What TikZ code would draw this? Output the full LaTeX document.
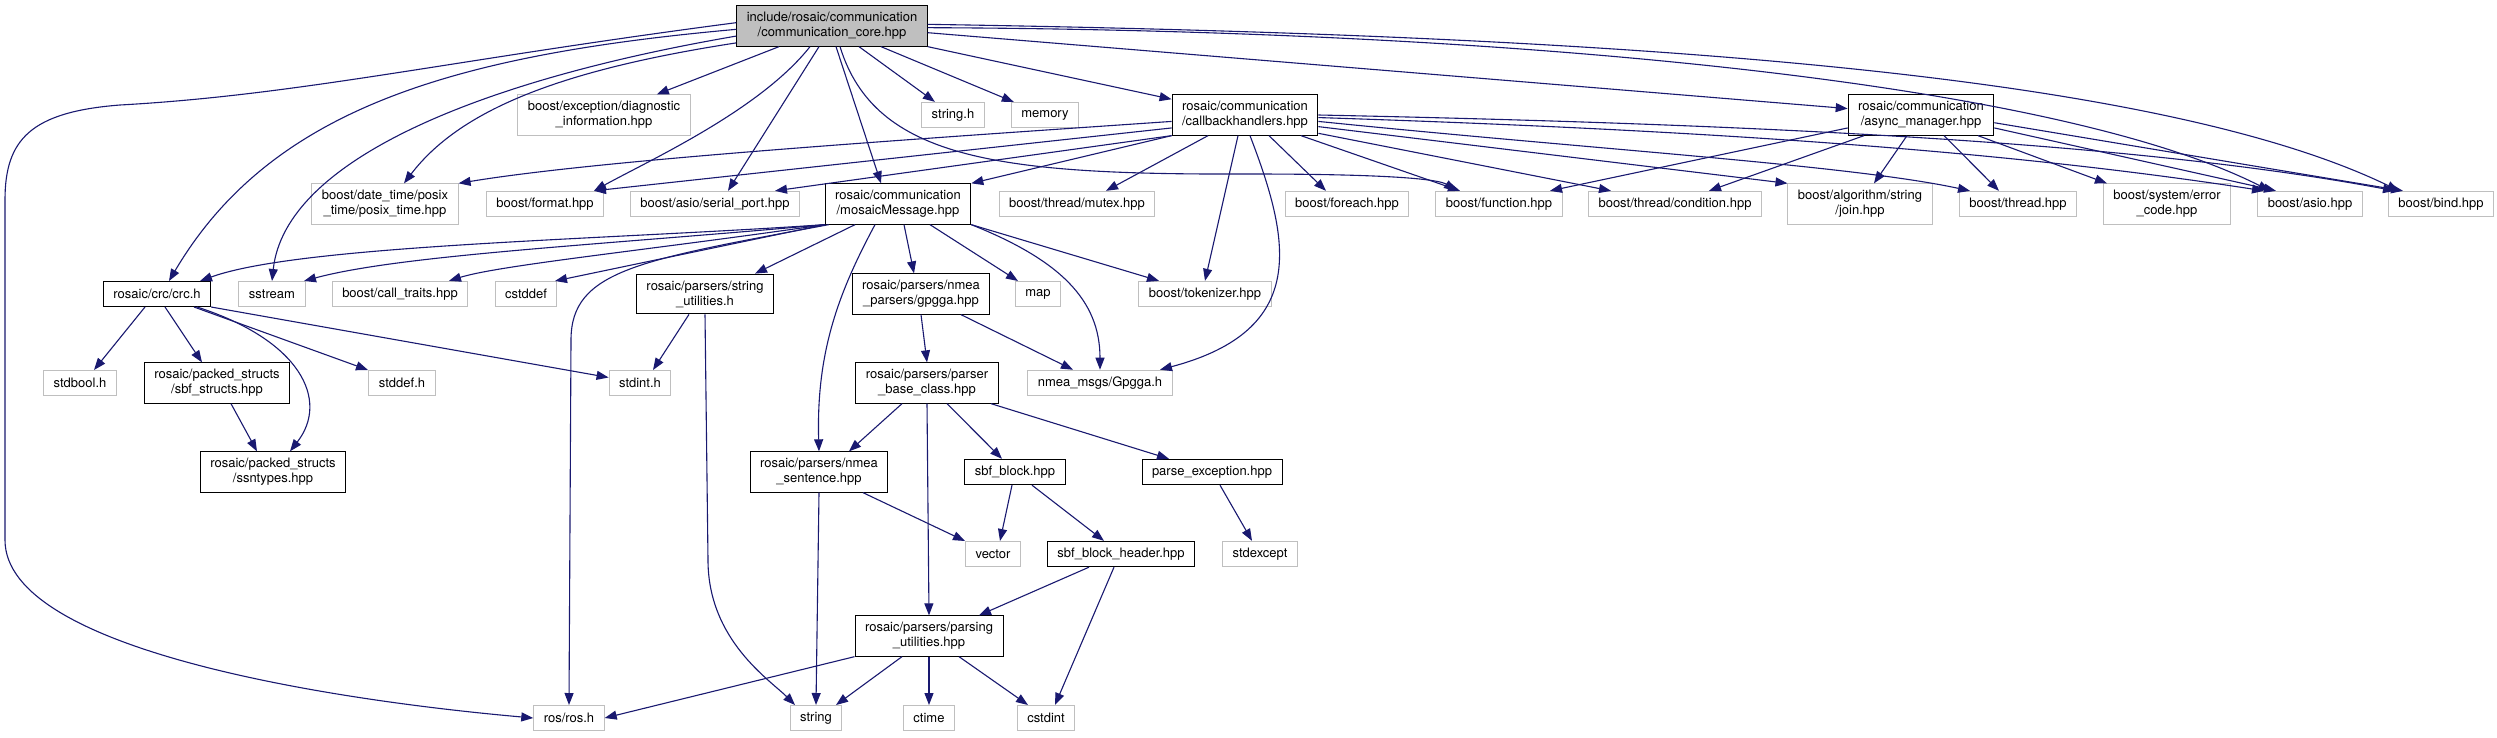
\documentclass[tikz,border=0pt]{standalone}
\usepackage{fontspec}
\setmainfont{TeX Gyre Heros}
\usetikzlibrary{arrows.meta}
\definecolor{edgeblue}{HTML}{191970}
\definecolor{boxgray}{HTML}{BFBFBF}

\begin{document}
\begin{tikzpicture}[x=1pt,y=-1pt,
		font=\fontsize{13}{15}\selectfont,
		file/.style={draw=boxgray, line width=1pt, align=center, inner xsep=10pt, inner ysep=6.5pt, minimum height=25pt},
		docfile/.style={file, draw=black},
		rootfile/.style={docfile, fill=boxgray},
		dep/.style={edgeblue, line width=1.1pt, -{Triangle[length=12pt,width=9pt]}}]
		\fill[white] (0,0) rectangle (2497,737);
		\useasboundingbox (0,0) rectangle (2497,737);

		% rows of files, top to bottom
		\node[rootfile] (root) at (832,26) {include/rosaic/communication\\/communication\_core.hpp};

		\node[file] (diag) at (604,115) {boost/exception/diagnostic\\\_information.hpp};
		\node[file] (strh) at (953,115) {string.h};
		\node[file] (memory) at (1045,115) {memory};
		\node[docfile] (cbh) at (1245,115) {rosaic/communication\\/callbackhandlers.hpp};
		\node[docfile] (async) at (1921,115) {rosaic/communication\\/async\_manager.hpp};

		\node[file] (posix) at (385,204) {boost/date\_time/posix\\\_time/posix\_time.hpp};
		\node[file] (format) at (545,204) {boost/format.hpp};
		\node[file] (serial) at (715,204) {boost/asio/serial\_port.hpp};
		\node[docfile] (mm) at (898,204) {rosaic/communication\\/mosaicMessage.hpp};
		\node[file] (mutex) at (1077,204) {boost/thread/mutex.hpp};
		\node[file] (foreach) at (1347,204) {boost/foreach.hpp};
		\node[file] (function) at (1499,204) {boost/function.hpp};
		\node[file] (cond) at (1675,204) {boost/thread/condition.hpp};
		\node[file] (join) at (1860,204) {boost/algorithm/string\\/join.hpp};
		\node[file] (thread) at (2018,204) {boost/thread.hpp};
		\node[file] (errc) at (2167,204) {boost/system/error\\\_code.hpp};
		\node[file] (asio) at (2310,204) {boost/asio.hpp};
		\node[file] (bind) at (2441,204) {boost/bind.hpp};

		\node[docfile] (crc) at (157,294) {rosaic/crc/crc.h};
		\node[file] (sstream) at (272,294) {sstream};
		\node[file] (calltr) at (400,294) {boost/call\_traits.hpp};
		\node[file] (cstddef) at (526,294) {cstddef};
		\node[docfile] (strutil) at (705,294) {rosaic/parsers/string\\\_utilities.h};
		\node[docfile] (gpgga) at (921,294) {rosaic/parsers/nmea\\\_parsers/gpgga.hpp};
		\node[file] (map) at (1038,294) {map};
		\node[file] (tokenizer) at (1205,294) {boost/tokenizer.hpp};

		\node[file] (stdbool) at (80,383) {stdbool.h};
		\node[docfile] (sbfstr) at (217,383) {rosaic/packed\_structs\\/sbf\_structs.hpp};
		\node[file] (stddef) at (402,383) {stddef.h};
		\node[file] (stdint) at (640,383) {stdint.h};
		\node[docfile] (pbase) at (927,383) {rosaic/parsers/parser\\\_base\_class.hpp};
		\node[file] (gpggah) at (1100,383) {nmea\_msgs/Gpgga.h};

		\node[docfile] (ssntypes) at (273,472) {rosaic/packed\_structs\\/ssntypes.hpp};
		\node[docfile] (nmeasent) at (819,472) {rosaic/parsers/nmea\\\_sentence.hpp};
		\node[docfile] (sbfblock) at (1015,472) {sbf\_block.hpp};
		\node[docfile] (parseexc) at (1212,472) {parse\_exception.hpp};

		\node[file] (vector) at (993,554) {vector};
		\node[docfile] (sbfhdr) at (1121,554) {sbf\_block\_header.hpp};
		\node[file] (stdexcept) at (1260,554) {stdexcept};

		\node[docfile] (putil) at (929,636) {rosaic/parsers/parsing\\\_utilities.hpp};

		\node[file] (ros) at (569,718) {ros/ros.h};
		\node[file] (string) at (816,718) {string};
		\node[file] (ctime) at (929,718) {ctime};
		\node[file] (cstdint) at (1046,718) {cstdint};

		% communication_core.hpp
		\draw[dep] (root.178) .. controls (450,60) and (300,95) .. (120,105) .. controls (30,112) and (5,140) .. (5,200) -- (5,540) .. controls (5,650) and (330,700) .. (ros.west);
		\draw[dep] (root.182) .. controls (450,55) and (270,110) .. ([xshift=12pt]crc.north);
		\draw[dep] (root.186) .. controls (480,80) and (285,160) .. (sstream.north);
		\draw[dep] (root.190) .. controls (560,70) and (460,110) .. ([xshift=19pt]posix.north);
		\draw[dep] ([xshift=-53pt]root.south) -- (diag);
		\draw[dep] ([xshift=-22pt]root.south) .. controls (760,110) and (650,160) .. ([xshift=49pt]format.north);
		\draw[dep] ([xshift=-13pt]root.south) -- ([xshift=13pt]serial.north);
		\draw[dep] ([xshift=4pt]root.south) -- ([xshift=-17pt]mm.north);
		\draw[dep] ([xshift=8pt]root.south) .. controls (875,160) and (1000,175) .. (1250,174) .. controls (1400,174) and (1440,180) .. ([xshift=-43pt]function.north);
		\draw[dep] ([xshift=27pt]root.south) -- (strh);
		\draw[dep] ([xshift=49pt]root.south) -- (memory);
		\draw[dep] (root.south east) -- (cbh);
		\draw[dep] (root.-4) -- (async.175);
		\draw[dep] (root.-1) .. controls (1500,30) and (2050,80) .. ([xshift=-40pt]asio.north);
		\draw[dep] (root.1) .. controls (1600,35) and (2150,70) .. ([xshift=-42pt]bind.north);

		% callbackhandlers.hpp
		\draw[dep] (cbh.185) .. controls (900,140) and (600,160) .. (posix.north east);
		\draw[dep] (cbh.190) -- ([xshift=49pt]format.north);
		\draw[dep] (cbh.south west) -- ([xshift=60pt]serial.north);
		\draw[dep] (cbh.south west) -- (mm.north east);
		\draw[dep] ([xshift=-37pt]cbh.south) -- ([xshift=29pt]mutex.north);
		\draw[dep] ([xshift=-7pt]cbh.south) -- (tokenizer.north);
		\draw[dep] ([xshift=5pt]cbh.south) .. controls (1290,240) and (1310,330) .. ([xshift=60pt]gpggah.north);
		\draw[dep] ([xshift=24pt]cbh.south) -- ([xshift=-21pt]foreach.north);
		\draw[dep] ([xshift=56pt]cbh.south) -- ([xshift=-39pt]function.north);
		\draw[dep] (cbh.-14) -- ([xshift=-64pt]cond.north);
		\draw[dep] (cbh.-9) -- (join.north west);
		\draw[dep] (cbh.-5) .. controls (1600,150) and (1850,165) .. ([xshift=-48pt]thread.north);
		\draw[dep] (cbh.-2) .. controls (1700,130) and (2000,150) .. ([xshift=-46pt]asio.north);
		\draw[dep] (cbh.0) .. controls (1800,125) and (2150,145) .. ([xshift=-46pt]bind.north);

		% async_manager.hpp
		\draw[dep] (async.190) -- ([xshift=51pt]function.north);
		\draw[dep] ([xshift=-57pt]async.south) -- ([xshift=34pt]cond.north);
		\draw[dep] ([xshift=-14pt]async.south) -- ([xshift=14pt]join.north);
		\draw[dep] ([xshift=23pt]async.south) -- ([xshift=-19pt]thread.north);
		\draw[dep] ([xshift=57pt]async.south) -- ([xshift=4pt]errc.north west);
		\draw[dep] (async.-10) -- ([xshift=-34pt]asio.north);
		\draw[dep] (async.-6) -- ([xshift=-38pt]bind.north);

		% mosaicMessage.hpp
		\draw[dep] (mm.south west) .. controls (600,240) and (300,245) .. ([xshift=43pt]crc.north);
		\draw[dep] (mm.south west) .. controls (600,245) and (400,255) .. ([xshift=32pt]sstream.north);
		\draw[dep] (mm.south west) .. controls (650,250) and (500,265) .. ([xshift=49pt]calltr.north);
		\draw[dep] (mm.south west) -- ([xshift=29pt]cstddef.north);
		\draw[dep] ([xshift=4pt]mm.south west) .. controls (640,260) and (571,270) .. (571,340) -- (ros.north);
		\draw[dep] ([xshift=-43pt]mm.south) -- ([xshift=50pt]strutil.north);
		\draw[dep] ([xshift=-23pt]mm.south) .. controls (840,290) and (816,350) .. (nmeasent.north);
		\draw[dep] ([xshift=6pt]mm.south) -- ([xshift=-7pt]gpgga.north);
		\draw[dep] ([xshift=32pt]mm.south) -- ([xshift=-20pt]map.north);
		\draw[dep] (mm.south east) -- ([xshift=-46pt]tokenizer.north);
		\draw[dep] (mm.south east) .. controls (1060,260) and (1100,300) .. (gpggah.north);

		% crc.h
		\draw[dep] ([xshift=-12pt]crc.south) -- ([xshift=14pt]stdbool.north);
		\draw[dep] ([xshift=8pt]crc.south) -- ([xshift=-15pt]sbfstr.north);
		\draw[dep] ([xshift=37pt]crc.south) -- ([xshift=-34pt]stddef.north);
		\draw[dep] (crc.south east) -- (stdint.170);
		\draw[dep] ([xshift=40pt]crc.south) .. controls (300,340) and (330,400) .. ([xshift=17pt]ssntypes.north);
		\draw[dep] ([xshift=14pt]sbfstr.south) -- ([xshift=-16pt]ssntypes.north);

		% parsers
		\draw[dep] ([xshift=-16pt]strutil.south) -- ([xshift=13pt]stdint.north);
		\draw[dep] (strutil.south) -- (708,560) .. controls (708,640) and (770,680) .. ([xshift=-21pt]string.north);
		\draw[dep] (gpgga.south) -- (pbase.north);
		\draw[dep] ([xshift=40pt]gpgga.south) -- ([xshift=-27pt]gpggah.north);
		\draw[dep] ([xshift=-25pt]pbase.south) -- ([xshift=30pt]nmeasent.north);
		\draw[dep] (pbase.south) -- (putil.north);
		\draw[dep] ([xshift=20pt]pbase.south) -- ([xshift=-13pt]sbfblock.north);
		\draw[dep] ([xshift=64pt]pbase.south) -- ([xshift=-43pt]parseexc.north);
		\draw[dep] ([xshift=44pt]nmeasent.south) -- (vector.north west);
		\draw[dep] (nmeasent.south) -- (string.north);
		\draw[dep] ([xshift=-3pt]sbfblock.south) -- ([xshift=7pt]vector.north);
		\draw[dep] ([xshift=17pt]sbfblock.south) -- ([xshift=-17pt]sbfhdr.north);
		\draw[dep] ([xshift=8pt]parseexc.south) -- ([xshift=-8pt]stdexcept.north);
		\draw[dep] ([xshift=-32pt]sbfhdr.south) -- ([xshift=50pt]putil.north);
		\draw[dep] ([xshift=-7pt]sbfhdr.south) -- ([xshift=9pt]cstdint.north);
		\draw[dep] (putil.south west) -- (ros.east);
		\draw[dep] ([xshift=-27pt]putil.south) -- ([xshift=20pt]string.north);
		\draw[dep] (putil.south) -- (ctime.north);
		\draw[dep] ([xshift=30pt]putil.south) -- ([xshift=-18pt]cstdint.north);
	\end{tikzpicture}
\end{document}
